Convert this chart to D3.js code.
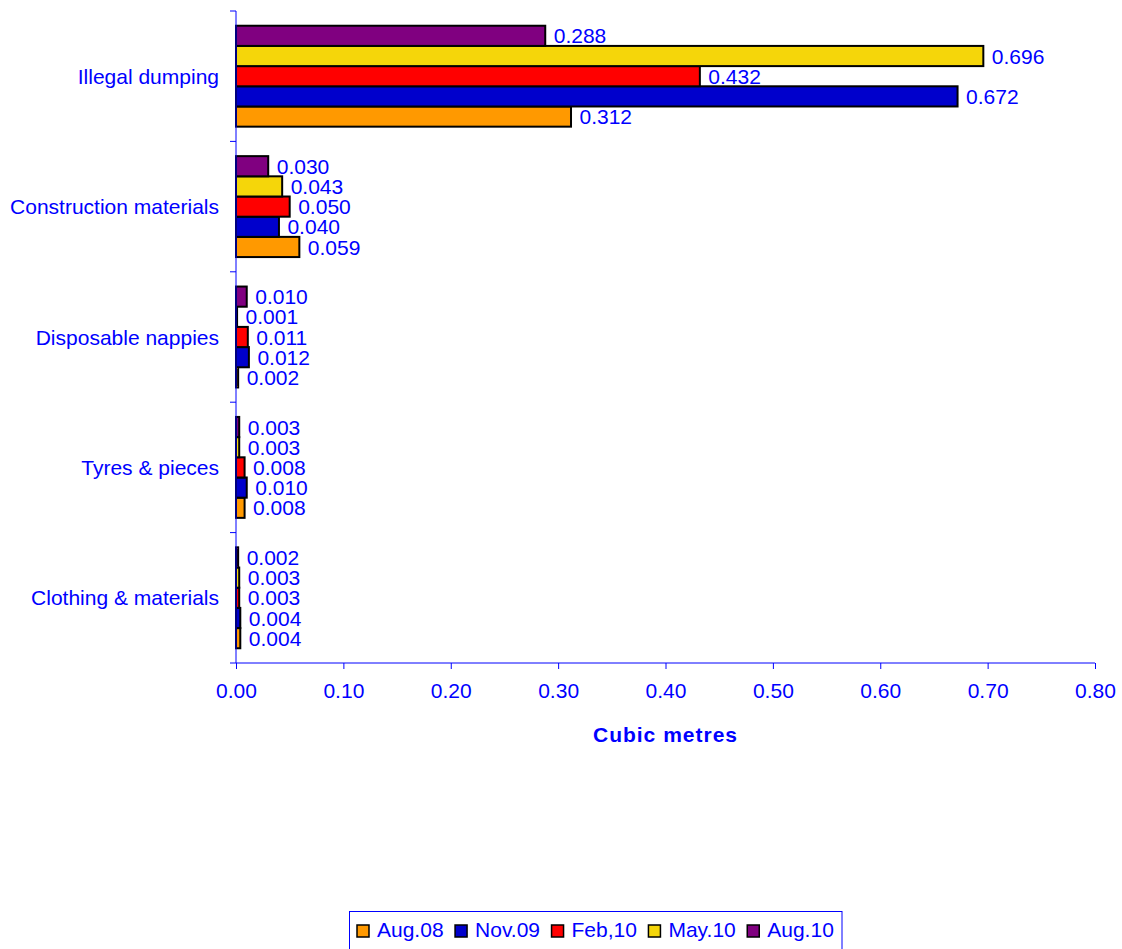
<!DOCTYPE html>
<html>
<head>
<meta charset="utf-8">
<script src="https://cdn.jsdelivr.net/npm/d3@7"></script>
<style>
  body { margin: 0; background: #fff; }
  text { font-family: "Liberation Sans", Arial, sans-serif; fill: #0000ff; }
</style>
</head>
<body>
<div id="chart"></div>
<script>
// categories top to bottom
var categories = ["Illegal dumping", "Construction materials", "Disposable nappies", "Tyres & pieces", "Clothing & materials"];
var seriesNames = ["Aug.08", "Nov.09", "Feb,10", "May.10", "Aug.10"];
var seriesColors = ["#ff9900", "#0000cc", "#ff0000", "#f5d60a", "#800080"];

// values per series, same order as categories
var aug08 = [0.312, 0.059, 0.002, 0.008, 0.004];
var nov09 = [0.672, 0.040, 0.012, 0.010, 0.004];
var feb10 = [0.432, 0.050, 0.011, 0.008, 0.003];
var may10 = [0.696, 0.043, 0.001, 0.003, 0.003];
var aug10 = [0.288, 0.030, 0.010, 0.003, 0.002];

var xTicks = [0, 0.1, 0.2, 0.3, 0.4, 0.5, 0.6, 0.7, 0.8];

var seriesValues = [aug08, nov09, feb10, may10, aug10];

var width = 1122, height = 949;
// plot edges ("top" is taken by window.top)
var plotLeft = 236, plotRight = 1095, plotTop = 11, plotBottom = 663;
var fs = "21px";

var svg = d3.select("#chart").append("svg")
  .attr("width", width)
  .attr("height", height);

var x = d3.scaleLinear().domain([0, 0.8]).range([plotLeft, plotRight]);
var y = d3.scaleBand().domain(categories).range([plotTop, plotBottom]);
// Aug.10 sits on top inside each group
var yInner = d3.scaleBand()
  .domain(seriesNames.slice().reverse())
  .range([0, y.bandwidth()])
  .paddingOuter(0.73);

var rows = [];
seriesNames.forEach(function(s, i) {
  categories.forEach(function(c, j) {
    rows.push({ series: s, cat: c, value: seriesValues[i][j], color: seriesColors[i] });
  });
});

// bars
svg.append("g").selectAll("rect")
  .data(rows)
  .enter().append("rect")
  .attr("x", x(0))
  .attr("y", function(d) { return y(d.cat) + yInner(d.series); })
  .attr("width", function(d) { return x(d.value) - x(0); })
  .attr("height", yInner.bandwidth())
  .attr("fill", function(d) { return d.color; })
  .attr("stroke", "#000")
  .attr("stroke-width", 2);

// value labels
svg.append("g").selectAll("text")
  .data(rows)
  .enter().append("text")
  .attr("x", function(d) { return x(d.value) + 8.5; })
  .attr("y", function(d) { return y(d.cat) + yInner(d.series) + yInner.bandwidth() / 2; })
  .attr("dy", "0.36em")
  .style("font-size", fs)
  .text(function(d) { return d3.format(".3f")(d.value); });

// x axis
var xAxis = svg.append("g")
  .attr("transform", "translate(0," + plotBottom + ")")
  .call(d3.axisBottom(x).tickValues(xTicks).tickSize(6).tickPadding(14).tickFormat(d3.format(".2f")));
xAxis.selectAll("line, path").attr("stroke", "#0000ff");
xAxis.select(".domain").attr("d", "M" + plotLeft + ",0H" + plotRight);
xAxis.selectAll("text").style("font-size", fs).attr("fill", "#0000ff")
  .style("font-family", "'Liberation Sans', Arial, sans-serif");

// y axis: ticks at group boundaries
var yAxisG = svg.append("g").attr("transform", "translate(" + plotLeft + ",0)");
yAxisG.append("line")
  .attr("x1", 0).attr("x2", 0)
  .attr("y1", plotTop).attr("y2", plotBottom)
  .attr("stroke", "#0000ff");
yAxisG.selectAll(".tick")
  .data(d3.range(categories.length + 1))
  .enter().append("line")
  .attr("x1", -6).attr("x2", 0)
  .attr("y1", function(i) { return plotTop + i * y.step(); })
  .attr("y2", function(i) { return plotTop + i * y.step(); })
  .attr("stroke", "#0000ff");
yAxisG.selectAll("text")
  .data(categories)
  .enter().append("text")
  .attr("x", -17)
  .attr("y", function(d) { return y(d) + y.bandwidth() / 2; })
  .attr("dy", "0.36em")
  .attr("text-anchor", "end")
  .style("font-size", fs)
  .text(function(d) { return d; });

// axis title
svg.append("text")
  .attr("x", (plotLeft + plotRight) / 2)
  .attr("y", 742)
  .attr("text-anchor", "middle")
  .style("font-size", fs)
  .style("font-weight", "bold")
  .style("letter-spacing", "1px")
  .text("Cubic metres");

// legend
var legend = svg.append("g");
legend.append("rect")
  .attr("x", 349.5).attr("y", 911.5)
  .attr("width", 492.5).attr("height", 45)
  .attr("fill", "#fff")
  .attr("stroke", "#0000ff");

var lx = 357;
seriesNames.forEach(function(s, i) {
  legend.append("rect")
    .attr("x", lx).attr("y", 925)
    .attr("width", 12).attr("height", 12)
    .attr("fill", seriesColors[i])
    .attr("stroke", "#000")
    .attr("stroke-width", 1.5);
  var t = legend.append("text")
    .attr("x", lx + 20).attr("y", 937)
    .style("font-size", fs)
    .text(s);
  lx += 20 + t.node().getComputedTextLength() + 11.5;
});
</script>
</body>
</html>
